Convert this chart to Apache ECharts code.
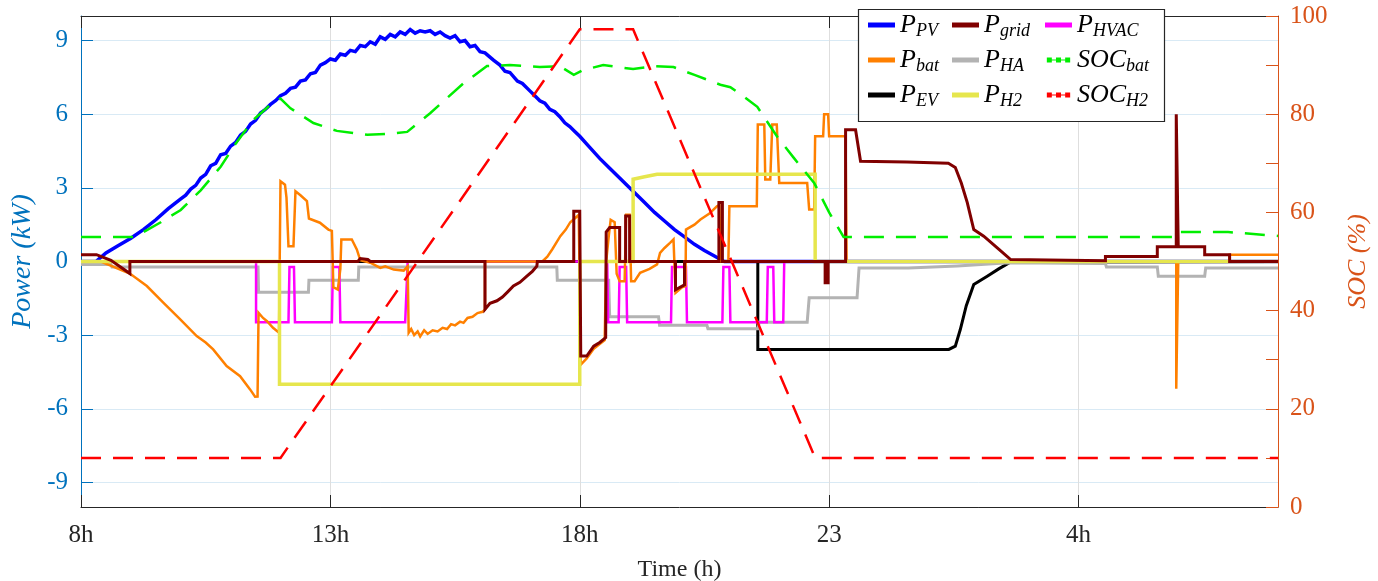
<!DOCTYPE html>
<html>
<head>
<meta charset="utf-8">
<script src="https://cdn.jsdelivr.net/npm/echarts@6/dist/echarts.min.js"></script>
<style>
html,body{margin:0;padding:0;background:#fff;}
#chart{width:1378px;height:581px;}
</style>
</head>
<body>
<div id="chart"></div>
<script>
// ---- tick labels ----
const xTickValues = [8, 13, 18, 23, 28];
const xTickLabels = ['8h', '13h', '18h', '23', '4h'];
const yLeftTicks = [-9, -6, -3, 0, 3, 6, 9];

// ---- series values: [hour, value] ----
const pPV = [[8,0],[8.3,0],[8.5,0.35],[8.75,0.65],[9.0,0.95],[9.25,1.3],[9.5,1.7],[9.75,2.15],[10.0,2.55],[10.1,2.7],[10.2,2.95],[10.3,3.1],[10.4,3.4],[10.5,3.55],[10.6,3.9],[10.7,4.0],[10.8,4.35],[10.9,4.4],[11.0,4.7],[11.1,4.85],[11.2,5.15],[11.3,5.3],[11.4,5.6],[11.5,5.75],[11.6,6.05],[11.7,6.2],[11.8,6.4],[11.9,6.55],[12.0,6.75],[12.1,6.85],[12.2,7.05],[12.3,7.1],[12.4,7.35],[12.5,7.4],[12.6,7.65],[12.7,7.7],[12.8,8.0],[12.9,8.1],[13.0,8.25],[13.1,8.2],[13.2,8.45],[13.3,8.4],[13.4,8.6],[13.5,8.55],[13.6,8.8],[13.7,8.75],[13.8,8.95],[13.9,8.85],[14.0,9.15],[14.1,9.05],[14.2,9.25],[14.3,9.15],[14.4,9.35],[14.5,9.25],[14.6,9.45],[14.7,9.3],[14.8,9.4],[14.9,9.35],[15.0,9.4],[15.1,9.25],[15.2,9.35],[15.3,9.2],[15.4,9.1],[15.5,9.2],[15.6,8.95],[15.7,9.0],[15.8,8.75],[15.9,8.8],[16.0,8.55],[16.1,8.5],[16.27,8.2],[16.4,8.0],[16.5,7.75],[16.6,7.7],[16.75,7.35],[16.85,7.25],[17.0,6.95],[17.1,6.75],[17.2,6.55],[17.3,6.45],[17.4,6.2],[17.5,6.1],[17.6,5.9],[17.7,5.65],[17.8,5.5],[17.9,5.3],[18.0,5.1],[18.2,4.65],[18.4,4.2],[18.6,3.8],[18.8,3.4],[19.07,2.86],[19.3,2.4],[19.5,2.0],[19.7,1.65],[19.9,1.3],[20.08,1.03],[20.3,0.7],[20.5,0.45],[20.7,0.22],[20.85,0.05],[20.9,0],[32,0]];

const pBat = [[8,0],[8.4,0],[8.98,-0.49],[9.32,-1.0],[9.65,-1.68],[9.99,-2.36],[10.32,-3.04],[10.5,-3.3],[10.65,-3.58],[10.92,-4.26],[11.19,-4.67],[11.39,-5.21],[11.49,-5.51],[11.54,-5.5],[11.56,-2.09],[11.65,-2.3],[11.73,-2.43],[11.85,-2.7],[11.97,-2.9],[12.0,3.27],[12.09,3.13],[12.12,2.6],[12.16,0.62],[12.26,0.62],[12.3,2.86],[12.4,2.7],[12.53,2.46],[12.57,1.75],[12.7,1.65],[12.79,1.58],[12.96,1.3],[13.03,1.25],[13.06,-1.05],[13.15,-1.14],[13.2,-0.3],[13.22,0.9],[13.43,0.9],[13.53,0.49],[13.6,0.05],[13.8,-0.05],[14.0,-0.26],[14.1,-0.2],[14.27,-0.33],[14.47,-0.37],[14.55,-0.2],[14.57,-2.9],[14.62,-2.75],[14.68,-3.0],[14.75,-2.85],[14.8,-3.05],[14.88,-2.8],[14.95,-2.95],[15.05,-2.8],[15.15,-2.85],[15.25,-2.7],[15.34,-2.75],[15.42,-2.55],[15.5,-2.6],[15.6,-2.45],[15.67,-2.5],[15.75,-2.3],[15.85,-2.25],[15.95,-2.1],[16.05,-2.05],[16.1,-1.95],[16.1,0],[17.25,0],[17.35,0.2],[17.45,0.5],[17.61,1.03],[17.72,1.3],[17.81,1.6],[17.9,1.75],[17.98,1.9],[18.02,-4.2],[18.14,-3.95],[18.28,-3.55],[18.5,-3.2],[18.53,0],[18.58,1.0],[18.62,1.7],[18.7,1.6],[18.74,-0.5],[18.8,-0.8],[18.9,-0.8],[18.93,1.9],[19.0,1.9],[19.03,-0.8],[19.1,-0.8],[19.21,-0.46],[19.4,-0.3],[19.55,-0.12],[19.61,0.35],[19.7,0.55],[19.81,0.76],[19.88,0.9],[19.92,-1.28],[20.05,-1.05],[20.12,-1.0],[20.13,1.3],[20.3,1.5],[20.42,1.71],[20.6,1.95],[20.75,2.25],[20.8,2.3],[20.82,0],[20.98,0],[21.0,2.25],[21.55,2.25],[21.57,5.58],[21.7,5.58],[21.72,3.34],[21.82,3.34],[21.86,5.58],[21.95,5.58],[22.0,3.2],[22.56,3.2],[22.6,2.12],[22.7,2.12],[22.72,5.1],[22.88,5.1],[22.9,6.0],[22.98,6.0],[23.0,5.1],[23.33,5.1],[23.35,0],[29.96,0],[29.96,-5.18],[30.0,-5.18],[30.0,0],[31.03,0],[31.03,0.27],[32,0.27]];

const pEV = [[8,0],[21.57,0],[21.57,-3.58],[25.4,-3.58],[25.53,-3.45],[25.63,-2.77],[25.75,-1.8],[25.9,-0.94],[26.17,-0.6],[26.4,-0.3],[26.64,-0.02],[32,0]];

const pGrid = [[8,0.28],[8.31,0.28],[8.6,0.05],[8.98,-0.49],[8.98,0],[13.55,0],[13.6,0.12],[13.75,0.08],[13.8,0],[16.1,0],[16.1,-1.95],[16.2,-1.7],[16.34,-1.6],[16.45,-1.45],[16.55,-1.25],[16.67,-1.0],[16.8,-0.85],[16.94,-0.6],[17.05,-0.4],[17.14,-0.19],[17.15,0],[17.88,0],[17.88,2.05],[18.0,2.05],[18.02,-3.85],[18.14,-3.85],[18.28,-3.45],[18.4,-3.3],[18.52,-3.1],[18.53,1.2],[18.6,1.38],[18.8,1.38],[18.8,0],[18.92,0],[18.92,1.85],[19.0,1.85],[19.0,0],[19.92,0],[19.92,-1.15],[20.1,-0.95],[20.1,0],[20.79,0],[20.79,2.4],[20.86,2.4],[20.86,0],[22.92,0],[22.92,-0.87],[22.98,-0.87],[22.98,0],[23.33,0],[23.33,5.37],[23.53,5.37],[23.63,4.08],[24.56,4.05],[25.39,4.0],[25.53,3.83],[25.65,3.2],[25.77,2.4],[25.9,1.3],[26.1,1.03],[26.4,0.5],[26.64,0.08],[28.54,0.03],[28.54,0.2],[29.58,0.2],[29.58,0.6],[29.96,0.6],[29.96,6.0],[30.0,6.0],[30.0,0.6],[30.53,0.6],[30.53,0.27],[31.03,0.27],[31.03,0],[32,0]];

const pHA = [[8,-0.12],[8.6,-0.12],[8.62,-0.22],[11.55,-0.22],[11.56,-1.25],[12.56,-1.25],[12.57,-0.76],[13.56,-0.76],[13.57,-0.22],[17.54,-0.22],[17.55,-0.76],[18.58,-0.76],[18.6,-2.25],[19.58,-2.25],[19.6,-2.6],[20.55,-2.6],[20.57,-2.74],[21.57,-2.74],[21.6,-2.47],[22.56,-2.47],[22.6,-1.48],[23.56,-1.48],[23.6,-0.26],[24.59,-0.26],[24.6,-0.18],[25.57,-0.18],[25.6,-0.12],[26.6,-0.05],[28.54,-0.08],[28.56,-0.22],[29.58,-0.22],[29.6,-0.6],[30.53,-0.6],[30.55,-0.26],[32,-0.26]];

const pH2 = [[8,0],[11.98,0],[11.98,-5.0],[18.0,-5.0],[18.0,0],[19.07,0],[19.07,3.35],[19.3,3.45],[19.55,3.55],[22.72,3.55],[22.72,0],[32,0]];

const pHVAC = [[8,0],[11.51,0],[11.51,-2.47],[12.16,-2.47],[12.18,-0.22],[12.27,-0.22],[12.29,-2.47],[13.03,-2.47],[13.05,-0.22],[13.18,-0.22],[13.2,-2.47],[14.5,-2.47],[14.55,0],[18.55,0],[18.57,-2.47],[18.78,-2.47],[18.8,-0.22],[18.93,-0.22],[18.95,-2.47],[19.83,-2.47],[19.85,-0.22],[20.13,-0.22],[20.15,-2.47],[20.86,-2.47],[20.88,-0.22],[21.0,-0.22],[21.02,-2.47],[21.75,-2.47],[21.77,-0.22],[21.88,-0.22],[21.9,-2.47],[22.08,-2.47],[22.1,0],[32,0]];

const socBat = [[8,55],[9.05,55],[9.25,56],[9.6,58],[10.0,60.5],[10.4,64.5],[10.8,69.3],[11.1,74],[11.45,78.8],[11.75,81.5],[12.0,83.2],[12.2,81.2],[12.66,78.2],[13.13,76.6],[13.74,75.8],[14.2,76],[14.54,76.4],[15.0,80.2],[15.67,86.3],[16.14,89.8],[16.6,90],[17.2,89.6],[17.6,89.8],[17.88,88],[18.07,89],[18.47,90],[19.07,89.2],[19.5,89.8],[19.88,89.6],[20.3,88],[20.82,86],[21.02,85.5],[21.3,83.5],[21.56,81.5],[21.96,75.4],[22.3,71],[22.7,66],[23.0,60],[23.29,55],[29.95,55],[30.0,56],[31,56],[32,55.2]];

const socH2 = [[8,10],[12,10],[18.0,97.3],[19.07,97.3],[22.72,10],[32,10]];

const chart = echarts.init(document.getElementById('chart'), null, {renderer: 'canvas'});

const serif = 'Liberation Serif';
const axisDark = '#262626';
const blueAxis = '#0072BD';
const orangeAxis = '#D95319';

function lineSeries(name, data, color, width, yIdx, dashed) {
  return {
    type: 'line', name: name, data: data,
    xAxisIndex: 0, yAxisIndex: yIdx,
    symbol: 'none', showSymbol: false, color: color,
    lineStyle: {color: color, width: width, type: dashed ? [20, 12] : 'solid', cap: 'butt', join: 'miter'},
    animation: false, silent: true, clip: true,
    emphasis: {disabled: true}
  };
}

const legendRich = {
  m: {fontFamily: serif, fontStyle: 'italic', fontSize: 26, lineHeight: 30, color: '#000', verticalAlign: 'middle'},
  s: {fontFamily: serif, fontStyle: 'italic', fontSize: 18, lineHeight: 15, color: '#000', verticalAlign: 'bottom'}
};
function legendFmt(name) {
  const i = name.indexOf('_');
  return '{m|' + name.slice(0, i) + '}{s|' + name.slice(i + 1) + '}';
}
const socIcon = 'path://M0,0h6v6h-6z M11,0h6v6h-6z M22,0h6v6h-6z M6,2.5h5v1h-5z M17,2.5h5v1h-5z';
function legendCol(names, left) {
  return {
    orient: 'vertical', left: left, top: 12, padding: 0, itemGap: 7,
    itemWidth: 27, itemHeight: 5, selectedMode: false,
    data: names.map(n => ({name: n, icon: n.startsWith('SOC') ? socIcon : 'rect'})),
    formatter: legendFmt,
    textStyle: {rich: legendRich}
  };
}

const option = {
  backgroundColor: '#fff',
  animation: false,
  grid: {left: 81, right: 100, top: 16, bottom: 74, containLabel: false, outerBoundsMode: 'none'},
  xAxis: [{
    type: 'value', position: 'bottom', min: 8, max: 32, interval: 5,
    name: 'Time (h)', nameLocation: 'middle', nameGap: 51,
    nameTextStyle: {fontFamily: serif, fontSize: 24, color: axisDark},
    axisLine: {show: true, onZero: false, lineStyle: {color: axisDark, width: 1}},
    axisTick: {show: true, inside: true, length: 12, customValues: xTickValues, lineStyle: {color: axisDark}},
    axisLabel: {customValues: xTickValues, margin: 16, fontFamily: serif, fontSize: 25, color: axisDark,
      formatter: function (v) { const i = xTickValues.indexOf(v); return i >= 0 ? xTickLabels[i] : ''; }},
    splitLine: {show: true, lineStyle: {color: '#dedede', width: 1}}
  }, {
    type: 'value', position: 'top', min: 8, max: 32, interval: 5,
    axisLine: {show: true, onZero: false, lineStyle: {color: axisDark, width: 1}},
    axisTick: {show: true, inside: true, length: 12, customValues: xTickValues, lineStyle: {color: axisDark}},
    axisLabel: {show: false},
    splitLine: {show: false}
  }],
  yAxis: [{
    type: 'value', position: 'left', min: -10, max: 10,
    name: 'Power (kW)', nameLocation: 'middle', nameGap: 42,
    nameTextStyle: {fontFamily: serif, fontStyle: 'italic', fontSize: 28, color: blueAxis},
    axisLine: {show: true, onZero: false, lineStyle: {color: blueAxis, width: 1}},
    axisTick: {show: true, inside: true, length: 12, customValues: yLeftTicks, lineStyle: {color: blueAxis}},
    axisLabel: {customValues: yLeftTicks, margin: 13, fontFamily: serif, fontSize: 25, color: blueAxis},
    splitLine: {show: true, lineStyle: {color: '#d9eaf5', width: 1}}
  }, {
    type: 'value', position: 'right', min: 0, max: 100, interval: 20,
    name: 'SOC (%)', nameLocation: 'middle', nameGap: 67,
    nameTextStyle: {fontFamily: serif, fontStyle: 'italic', fontSize: 26, color: orangeAxis},
    axisLine: {show: true, onZero: false, lineStyle: {color: orangeAxis, width: 1}},
    axisTick: {show: true, inside: true, length: 12, lineStyle: {color: orangeAxis}},
    minorTick: {show: true, splitNumber: 2, length: 12, lineStyle: {color: orangeAxis}},
    axisLabel: {margin: 12, fontFamily: serif, fontSize: 25, color: orangeAxis},
    splitLine: {show: false}
  }],
  legend: [
    legendCol(['P_PV', 'P_bat', 'P_EV'], 868),
    legendCol(['P_grid', 'P_HA', 'P_H2'], 952),
    legendCol(['P_HVAC', 'SOC_bat', 'SOC_H2'], 1045)
  ],
  graphic: [{
    type: 'rect', z: 3, silent: true,
    shape: {x: 858.5, y: 9.5, width: 306, height: 112},
    style: {fill: '#fff', stroke: axisDark, lineWidth: 1.2}
  }],
  series: [
    lineSeries('P_PV', pPV, '#0000FF', 3.5, 0, false),
    lineSeries('P_EV', pEV, '#000000', 3, 0, false),
    lineSeries('P_HA', pHA, '#B3B3B3', 3, 0, false),
    lineSeries('P_HVAC', pHVAC, '#FF00FF', 2.5, 0, false),
    lineSeries('P_bat', pBat, '#FF8000', 2.5, 0, false),
    lineSeries('P_H2', pH2, '#E6E64D', 3.5, 0, false),
    lineSeries('P_grid', pGrid, '#800000', 3, 0, false),
    lineSeries('SOC_bat', socBat, '#00EE00', 2.5, 1, true),
    lineSeries('SOC_H2', socH2, '#FF0000', 2.5, 1, true)
  ]
};
chart.setOption(option);
</script>
</body>
</html>
